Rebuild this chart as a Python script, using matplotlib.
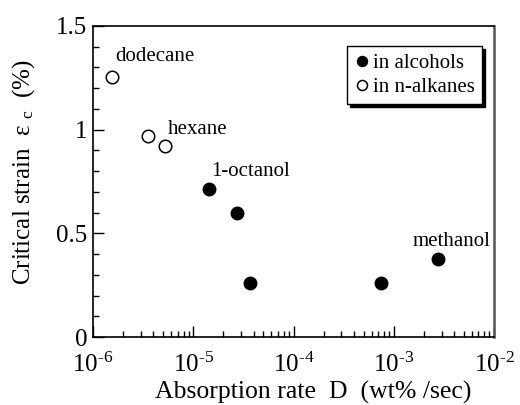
import numpy as np
import matplotlib
matplotlib.use('Agg')
import matplotlib.pyplot as plt
from matplotlib.ticker import FixedLocator, MultipleLocator, LogLocator, NullFormatter

plt.rcParams['font.family'] = ['Liberation Serif', 'DejaVu Serif']
plt.rcParams['mathtext.fontset'] = 'custom'
plt.rcParams['mathtext.rm'] = 'Liberation Serif'
plt.rcParams['mathtext.it'] = 'Liberation Serif:italic'
plt.rcParams['axes.unicode_minus'] = False

# absorption rate D (wt%/sec) vs critical strain (%)
alc_D = [1.45e-5, 2.75e-5, 3.7e-5, 7.4e-4, 2.75e-3]
alc_eps = [0.714, 0.60, 0.262, 0.262, 0.376]
alk_D = [1.55e-6, 3.5e-6, 5.2e-6]
alk_eps = [1.254, 0.97, 0.922]

names = ['dodecane', 'hexane', '1-octanol', 'methanol']
name_pos = [(1.65e-6, 1.33), (5.6e-6, 0.98), (1.5e-5, 0.775), (1.55e-3, 0.44)]

xtick_vals = [1e-6, 1e-5, 1e-4, 1e-3, 1e-2]
xtick_exp = ['-6', '-5', '-4', '-3', '-2']

fig = plt.figure(figsize=(5.2, 4.05), dpi=100)
ax = fig.add_axes([93/520, 1 - 337/405, 401/520, 311/405])

ax.plot(alc_D, alc_eps, 'o', color='black', markersize=9, label='in alcohols')
ax.plot(alk_D, alk_eps, 'o', markerfacecolor='white', markeredgecolor='black',
        markeredgewidth=1.1, markersize=9, label='in n-alkanes')

for txt, (x, y) in zip(names, name_pos):
    ax.text(x, y, txt, fontsize=15)

ax.set_xscale('log')
ax.set_xlim(1e-6, 1e-2)
ax.set_ylim(0, 1.5)
ax.xaxis.set_major_locator(FixedLocator(xtick_vals))
ax.xaxis.set_minor_locator(LogLocator(base=10, subs=np.arange(2, 10)))
ax.xaxis.set_minor_formatter(NullFormatter())
# hyphen (U+2010) keeps mathtext from turning it into a long minus
ax.set_xticklabels([r'$\mathregular{10^{%s}}$' % e.replace('-', '\u2010') for e in xtick_exp])
ax.yaxis.set_major_locator(FixedLocator([0, 0.5, 1, 1.5]))
ax.set_yticklabels(['0', '0.5', '1', '1.5'])
ax.yaxis.set_minor_locator(MultipleLocator(0.1))

ax.tick_params(which='both', direction='in', top=False, right=False, labelsize=18, width=1)
ax.tick_params(which='major', length=8)
ax.tick_params(which='minor', length=4)
ax.tick_params(axis='x', which='major', pad=11)
ax.tick_params(axis='y', which='major', pad=4)
for s in ax.spines.values():
    s.set_linewidth(1.2)
ax.spines['right'].set_color('#555555')
ax.spines['right'].set_linewidth(1.8)

ax.set_xlabel('Absorption rate  D  (wt% /sec)', fontsize=18.5)
ax.xaxis.set_label_coords(0.55, -0.14)
ax.set_ylabel(r'Critical strain  $\mathregular{\varepsilon}$ $\mathregular{_c}$  (%)',
              fontsize=18)
ax.yaxis.set_label_coords(-0.14, 0.53)

leg = ax.legend(loc='upper right', bbox_to_anchor=(0.97, 0.935), fontsize=15,
                frameon=True, fancybox=False, edgecolor='black', framealpha=1,
                shadow={'color': 'black', 'alpha': 1}, handletextpad=0.1,
                handlelength=0.8, borderpad=0.35, labelspacing=0.2, borderaxespad=0,
                markerscale=0.8)
leg.get_frame().set_linewidth(1.0)

fig.savefig('out.png', dpi=100)
